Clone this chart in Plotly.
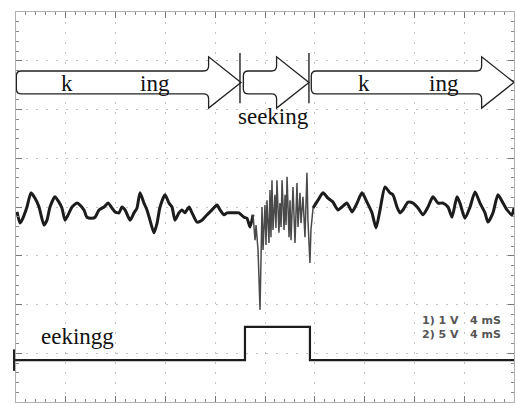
import plotly.graph_objects as go

# Channel 1: analogue signal, time in ms, amplitude in V (1 V/div)
ch1_t = [0.08, 0.32, 0.48, 0.88, 1.20, 1.53, 1.85, 2.25, 2.49, 2.73, 3.13, 3.45, 3.69, 3.94,
         4.26, 4.50, 4.90, 5.14, 5.46, 5.70, 6.10, 6.35, 6.67, 7.07, 7.39, 7.71, 7.95, 8.27,
         8.51, 8.76, 9.16, 9.48, 9.72, 9.96, 10.28, 10.52, 10.76, 11.08, 11.33, 11.57, 11.97,
         12.29, 12.53, 12.77, 13.09, 13.33, 13.57, 13.90, 14.14, 14.54, 14.94, 15.34, 15.74,
         16.14, 16.39, 16.71, 16.95, 17.35, 17.91, 18.31, 18.55, 18.80,
         19.04, 19.20, 19.28, 19.44, 19.60, 19.68, 19.76, 19.84, 20.00, 20.08, 20.16, 20.32,
         20.40, 20.48, 20.56, 20.64, 20.80, 20.88, 20.96, 21.12, 21.20, 21.29, 21.37, 21.53,
         21.61, 21.69, 21.77, 21.93, 22.01, 22.09, 22.25, 22.41, 22.49, 22.57, 22.65, 22.81,
         22.89, 23.05, 23.21, 23.29, 23.37, 23.45, 23.61, 23.69, 23.86,
         24.26, 24.66, 25.06, 25.46, 25.86, 26.18, 26.59, 26.99, 27.39, 27.79,
         28.19, 28.59, 28.92, 29.24, 29.64, 30.04, 30.28, 30.60, 30.84, 31.08, 31.49, 31.89,
         32.29, 32.69, 33.09, 33.49, 33.90, 34.30, 34.70, 35.02, 35.42, 35.66, 36.06, 36.47,
         36.87, 37.27, 37.67, 37.91, 38.31, 38.71, 39.12, 39.44, 39.84, 40.00]
ch1_v = [-0.10, -0.33, -0.27, 0.00, 0.29, 0.18, 0.00, -0.37, -0.27, 0.00, 0.21, 0.10, -0.02, -0.27,
         -0.12, 0.00, 0.08, 0.04, -0.06, -0.21, -0.23, -0.21, -0.06, 0.00, 0.08, -0.02, -0.10, -0.12,
         0.00, -0.06, -0.27, -0.12, -0.02, 0.29, 0.08, -0.06, -0.27, -0.53, -0.33, 0.00, 0.25,
         0.08, 0.00, -0.27, -0.12, -0.06, -0.12, 0.00, -0.12, -0.31, -0.27, -0.16, -0.06,
         0.04, -0.06, -0.16, -0.12, -0.12, -0.12, -0.21, -0.23, -0.41,
         -0.16, -0.68, -0.37, -0.88, -2.11, -0.88, 0.00, -0.88, 0.04, -0.78, 0.14, -0.74,
         0.35, -0.62, 0.55, -0.47, 0.25, -0.43, 0.55, -0.53, 0.08, -0.41, 0.55, -0.47,
         0.25, -0.37, 0.62, -0.62, 0.14, -0.68, 0.41, -0.74, 0.14, 0.49, -0.41, 0.29,
         -0.33, 0.21, -0.62, 0.04, 0.70, -0.27, -1.15, -0.47, -0.02,
         0.14, 0.29, 0.18, 0.10, -0.06, 0.00, 0.08, -0.10, 0.08, 0.29,
         0.10, -0.12, -0.43, -0.06, 0.41, 0.29, 0.25, 0.00, -0.12, -0.06, 0.10, 0.08,
         -0.02, -0.16, 0.00, 0.21, 0.08, 0.08, 0.00, -0.21, 0.21, 0.08, -0.23, 0.00,
         0.31, 0.08, -0.12, -0.31, -0.12, 0.25, 0.08, -0.06, -0.16, -0.02]

# Channel 2: logic "seeking" signal, time in ms, level in V (5 V/div)
ch2_t = [0.0, 18.39, 23.61, 40.0]
ch2_v = [0.0, 3.4, 0.0, 0.0]

# Timing states shown above the traces
state_start = [0.0, 18.23, 23.69]
state_end = [18.07, 23.53, 40.0]
state_labels = [("k", "ing"), ("", ""), ("k", "ing")]
boundaries = [17.99, 23.53]

CH1_OFFSET = 0.0      # divisions
CH2_OFFSET = -3.14    # divisions
CH1_VDIV = 1.0
CH2_VDIV = 5.0
T_DIV = 4.0

SERIF = "Liberation Serif, Times New Roman, serif"

fig = go.Figure()

# split channel 1 into the quiet parts and the fast burst
burst_lo, burst_hi = 19.04, 23.86
segments = [
    ([t for t in ch1_t if t <= burst_lo], 3.0, "#1c1c1c", "spline"),
    ([t for t in ch1_t if burst_lo <= t <= burst_hi], 1.5, "#4a4a4a", "linear"),
    ([t for t in ch1_t if t >= burst_hi], 3.0, "#1c1c1c", "spline"),
]
lookup = dict(zip(ch1_t, ch1_v))
for tt, w, c, shp in segments:
    fig.add_trace(go.Scatter(
        x=tt, y=[CH1_OFFSET + lookup[t] / CH1_VDIV for t in tt],
        mode="lines", line=dict(color=c, width=w, shape=shp, smoothing=0.6),
        showlegend=False, hoverinfo="skip"))

fig.add_trace(go.Scatter(
    x=ch2_t, y=[CH2_OFFSET + v / CH2_VDIV for v in ch2_v],
    mode="lines", line=dict(color="#1c1c1c", width=2.2, shape="hv"),
    showlegend=False, hoverinfo="skip"))


def arrow_path(x0, xt, head_len, yt=2.79, yb=2.32, yh=3.08, yl=2.03, rx=0.4, ry=0.1):
    xb = xt - head_len
    ym = (yh + yl) / 2
    pts = [
        f"M {x0 + rx},{yt}",
        f"L {xb - rx},{yt}",
        f"Q {xb},{yt} {xb},{yt + ry}",
        f"L {xb},{yh}",
        f"L {xt},{ym}",
        f"L {xb},{yl}",
        f"L {xb},{yb - ry}",
        f"Q {xb},{yb} {xb - rx},{yb}",
        f"L {x0 + rx},{yb}",
        f"Q {x0},{yb} {x0},{yb + ry}",
        f"L {x0},{yt - ry}",
        f"Q {x0},{yt} {x0 + rx},{yt}",
        "Z",
    ]
    return " ".join(pts)


shapes = []
for s, e in zip(state_start, state_end):
    shapes.append(dict(type="path", xref="x", yref="y",
                       path=arrow_path(s + 0.03, e, 2.6),
                       fillcolor="white", line=dict(color="#222", width=1.3),
                       layer="above"))
for b in boundaries:
    shapes.append(dict(type="line", xref="x", yref="y", x0=b, x1=b, y0=2.13, y1=3.16,
                       line=dict(color="#222", width=1.4), layer="above"))

# channel 2 ground marker at the left edge
shapes.append(dict(type="line", xref="paper", yref="y", x0=-0.004, x1=-0.004,
                   y0=CH2_OFFSET - 0.22, y1=CH2_OFFSET + 0.22,
                   line=dict(color="#222", width=2)))
shapes.append(dict(type="line", xref="paper", yref="y", x0=-0.004, x1=0.01,
                   y0=CH2_OFFSET, y1=CH2_OFFSET,
                   line=dict(color="#222", width=2)))

fig.update_layout(shapes=shapes)

ann = []
label_y = 2.54
for (a, b), s, e in zip(state_labels, state_start, state_end):
    if a:
        ann.append(dict(x=s + 4.1 if s == 0 else s + 4.25, y=label_y, text=a))
        ann.append(dict(x=s + 11.2 if s == 0 else s + 10.7, y=label_y, text=b))
ann.append(dict(x=20.7, y=1.85, text="seeking"))
ann.append(dict(x=4.9, y=-2.66, text="eekingg"))
for a in ann:
    a.update(xref="x", yref="y", showarrow=False, xanchor="center", yanchor="middle",
             font=dict(family=SERIF, size=23, color="#111"))
    fig.add_annotation(**a)

scale_lines = ["1) 1 V   4 mS", "2) 5 V   4 mS"]
for i, txt in enumerate(scale_lines):
    fig.add_annotation(x=39.1, y=-2.32 - i * 0.3, xref="x", yref="y", text=f"<b>{txt}</b>",
                       showarrow=False, xanchor="right", yanchor="middle",
                       font=dict(family="DejaVu Sans", size=11, color="#555"))

axis_common = dict(
    showgrid=True, gridcolor="#c4c4c4", gridwidth=1, griddash="2px,8px",
    zeroline=False, showline=True, linecolor="#b0b0b0", linewidth=1, mirror="ticks",
    ticks="inside", ticklen=6, tickcolor="#777", tickwidth=1, showticklabels=False,
)
fig.update_xaxes(range=[0, 10 * T_DIV], dtick=T_DIV,
                 minor=dict(ticks="inside", ticklen=3, tickcolor="#888", dtick=T_DIV / 5,
                            showgrid=False),
                 **axis_common)
fig.update_yaxes(range=[-4, 4], dtick=1,
                 minor=dict(ticks="inside", ticklen=3, tickcolor="#888", dtick=0.2,
                            showgrid=False),
                 **axis_common)

fig.update_layout(
    width=515, height=406,
    margin=dict(l=16, r=1, t=12, b=4),
    paper_bgcolor="white", plot_bgcolor="white",
    showlegend=False,
)

fig.write_html("out.html")
